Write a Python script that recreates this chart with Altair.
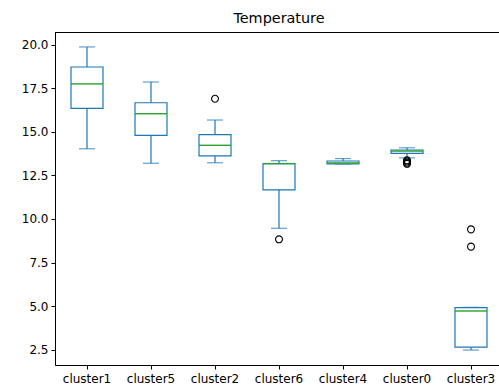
import altair as alt
import pandas as pd

# Box statistics per cluster, in display order
clusters = ["cluster1", "cluster5", "cluster2", "cluster6", "cluster4", "cluster0", "cluster3"]
whisker_low = [14.02, 13.19, 13.22, 9.46, 13.15, 13.50, 2.48]
q1 = [16.34, 14.79, 13.61, 11.67, 13.15, 13.76, 2.65]
median = [17.74, 16.03, 14.22, 13.17, 13.21, 13.89, 4.72]
q3 = [18.71, 16.66, 14.83, 13.17, 13.32, 13.95, 4.91]
whisker_high = [19.86, 17.85, 15.67, 13.34, 13.46, 14.08, 4.93]

# Points beyond the whiskers
outlier_cluster = ["cluster2", "cluster6", "cluster0", "cluster0", "cluster0", "cluster0", "cluster3", "cluster3"]
outlier_value = [16.89, 8.83, 13.36, 13.29, 13.22, 13.16, 9.40, 8.41]

y_ticks = [2.5, 5.0, 7.5, 10.0, 12.5, 15.0, 17.5, 20.0]

stats = pd.DataFrame({
    "cluster": clusters,
    "low": whisker_low,
    "q1": q1,
    "median": median,
    "q3": q3,
    "high": whisker_high,
})
outliers = pd.DataFrame({"cluster": outlier_cluster, "value": outlier_value})

BLUE = "#1f77b4"
GREEN = "#2ca02c"
LW = 1.2
PLOT_W = 444
FULL_W = 448

x_enc = alt.X(
    "cluster:N",
    sort=clusters,
    scale=alt.Scale(domain=clusters, range=[0, FULL_W], paddingInner=0, paddingOuter=0),
    axis=alt.Axis(title=None, labelAngle=0, tickSize=4, labelPadding=4,
                  domainColor="black", tickColor="black", labelColor="black",
                  labelFontSize=12, labelFont="DejaVu Sans"),
)
y_scale = alt.Scale(domain=[1.623, 20.717], nice=False, zero=False)
y_axis = alt.Axis(title=None, values=y_ticks, format=".1f", tickSize=4, labelPadding=3,
                  grid=False, domainColor="black", tickColor="black", labelColor="black",
                  labelFontSize=12, labelFont="DejaVu Sans")

base = alt.Chart(stats)

whiskers = base.mark_rule(color=BLUE, strokeWidth=LW).encode(
    x=x_enc,
    y=alt.Y("low:Q", scale=y_scale, axis=y_axis),
    y2="high:Q",
)
caps_low = base.mark_tick(color=BLUE, size=16, thickness=LW, orient="horizontal").encode(
    x=x_enc, y=alt.Y("low:Q", scale=y_scale)
)
caps_high = base.mark_tick(color=BLUE, size=16, thickness=LW, orient="horizontal").encode(
    x=x_enc, y=alt.Y("high:Q", scale=y_scale)
)
boxes = base.mark_bar(size=32, fill="white", stroke=BLUE, strokeWidth=LW).encode(
    x=x_enc, y=alt.Y("q1:Q", scale=y_scale), y2="q3:Q"
)
medians = base.mark_tick(color=GREEN, size=32, thickness=1.4, orient="horizontal", opacity=1).encode(
    x=x_enc, y=alt.Y("median:Q", scale=y_scale)
)
fliers = alt.Chart(outliers).mark_point(
    shape="circle", filled=False, color="black", size=48, strokeWidth=1.1, opacity=1
).encode(x=x_enc, y=alt.Y("value:Q", scale=y_scale))

top_spine = base.mark_rule(color="black", strokeWidth=1).encode(
    x=alt.value(0), x2=alt.value(FULL_W), y=alt.value(0.5)
)

chart = alt.layer(whiskers, caps_low, caps_high, boxes, medians, fliers, top_spine).properties(
    width=PLOT_W,
    height=333,
    title=alt.TitleParams("Temperature", fontSize=14.4, font="DejaVu Sans", fontWeight="normal",
                          color="black", offset=6, anchor="middle", dx=2),
    autosize=alt.AutoSizeParams(type="none"),
    padding={"left": 55, "top": 32, "right": 0, "bottom": 22},
).configure_view(stroke=None).configure(background="white")

chart.save("out.html", embed_options={"renderer": "svg", "actions": False})
